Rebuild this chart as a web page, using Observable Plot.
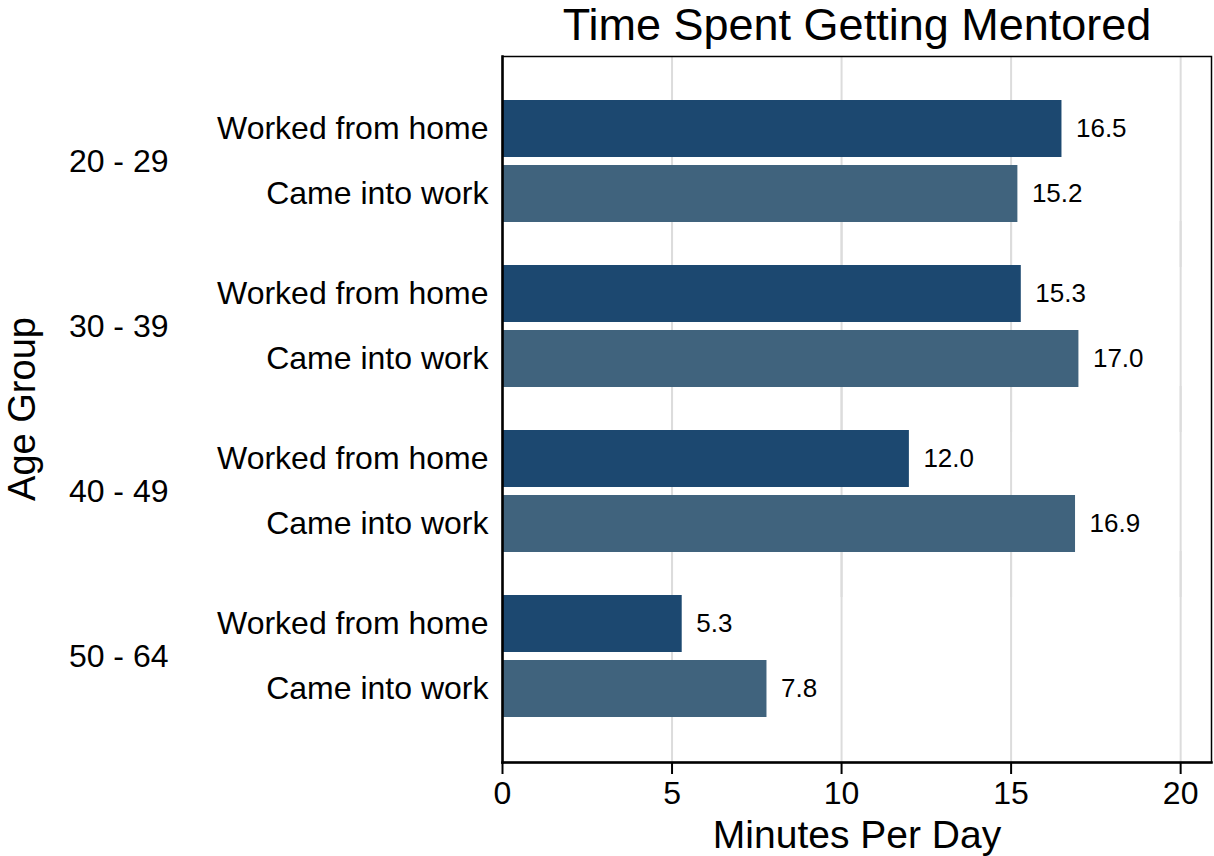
<!DOCTYPE html>
<html>
<head>
<meta charset="utf-8">
<script src="https://cdn.jsdelivr.net/npm/d3@7"></script>
<script src="https://cdn.jsdelivr.net/npm/@observablehq/plot@0.6"></script>
<style>
  html, body { margin: 0; padding: 0; background: #fff; }
  #chart { width: 1214px; height: 856px; }
</style>
</head>
<body>
<div id="chart"></div>
<script>
const title = "Time Spent Getting Mentored";
const xLabel = "Minutes Per Day";
const yLabel = "Age Group";
const ageGroups = ["20 - 29", "30 - 39", "40 - 49", "50 - 64"];
const types = ["Worked from home", "Came into work"];
const workedFromHome = [16.5, 15.3, 12.0, 5.3];
const cameIntoWork = [15.2, 17.0, 16.9, 7.8];
const xTicks = [0, 5, 10, 15, 20];
const typeColors = ["#1c4870", "#40637d"];

const data = [];
ageGroups.forEach((age, i) => {
  data.push({age, type: types[0], value: workedFromHome[i]});
  data.push({age, type: types[1], value: cameIntoWork[i]});
});

const font = "'Liberation Sans', Arial, Helvetica, sans-serif";
const outerTop = 43, outerBottom = 44;

const chart = Plot.plot({
  width: 1214,
  height: 856,
  marginLeft: 502,
  marginRight: 3,
  marginTop: 55,
  marginBottom: 94,
  style: {fontFamily: font, fontSize: "32px", color: "#000", background: "#fff"},
  x: {domain: [0, 20.91]},
  y: {domain: types, paddingInner: 0.12, paddingOuter: 0},
  fy: {domain: ageGroups, paddingInner: 0.25, paddingOuter: 0.265},
  color: {domain: types, range: typeColors},
  marks: [
    Plot.ruleX(xTicks.filter(d => d > 0), {x: d => d, stroke: "#dcdcdc", strokeWidth: 2, insetTop: -outerTop, insetBottom: -outerBottom}),
    Plot.barX(data, {x: "value", y: "type", fy: "age", fill: "type"}),
    Plot.text(data, {x: "value", y: "type", fy: "age", text: d => d.value.toFixed(1), dx: 14, textAnchor: "start", fontSize: 26, fill: "#000"}),
    Plot.frame({facet: "super", stroke: "#000", strokeWidth: 1.5, insetTop: -outerTop, insetBottom: -outerBottom}),
    Plot.frame({facet: "super", anchor: "left", stroke: "#000", strokeWidth: 2.5, insetTop: -outerTop, insetBottom: -outerBottom}),
    Plot.frame({facet: "super", anchor: "bottom", stroke: "#000", strokeWidth: 2.5, insetTop: -outerTop, insetBottom: -outerBottom}),
    Plot.axisX({anchor: "bottom", ticks: xTicks, tickFormat: d => String(d), tickSize: 12, tickPadding: 7, strokeWidth: 2, fontSize: 32, dy: outerBottom, label: null}),
    Plot.text([xLabel], {facet: "super", frameAnchor: "bottom", lineAnchor: "middle", dy: 117, fontSize: 39, fill: "#000", text: d => d}),
    Plot.axisY({anchor: "left", tickSize: 0, tickPadding: 14, fontSize: 32, label: null}),
    Plot.axisFy({anchor: "left", tickSize: 0, tickPadding: 334, fontSize: 32, label: null}),
    Plot.text([yLabel], {facet: "super", frameAnchor: "left", textAnchor: "middle", dx: -480, rotate: -90, fontSize: 38, fill: "#000", text: d => d}),
    Plot.text([title], {facet: "super", frameAnchor: "top", lineAnchor: "middle", dy: -74, fontSize: 45, fill: "#000", text: d => d})
  ]
});
document.getElementById("chart").appendChild(chart);
</script>
</body>
</html>
